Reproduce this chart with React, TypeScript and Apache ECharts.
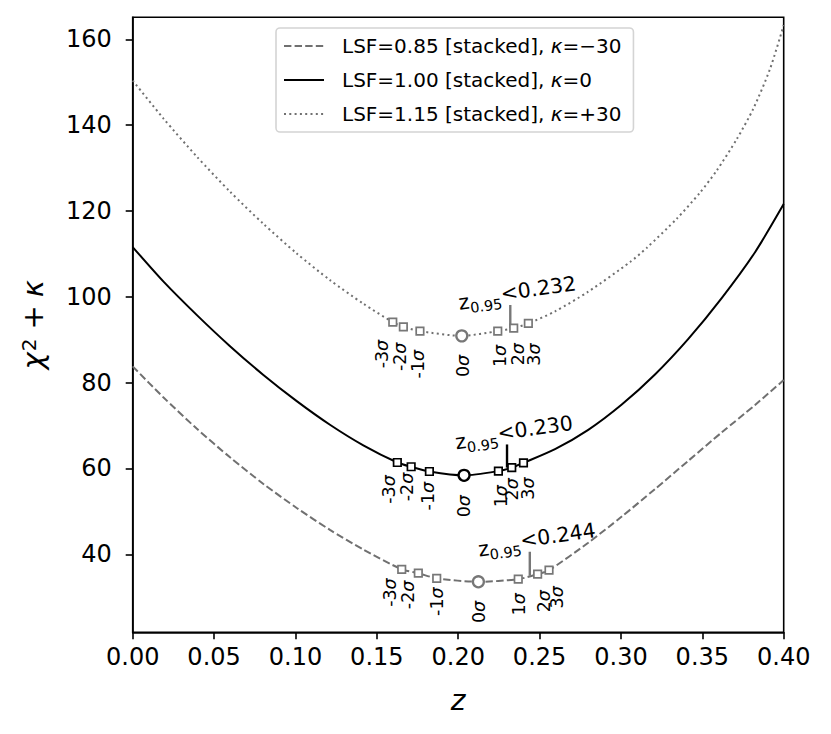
import { useEffect, useRef } from 'react';
import * as echarts from 'echarts';

const FONT = "'DejaVu Sans', sans-serif";

// ---------- data ----------
const seriesNames = [
  'LSF=0.85 [stacked], κ=−30',
  'LSF=1.00 [stacked], κ=0',
  'LSF=1.15 [stacked], κ=+30',
];

const curveZ085 = [0, 0.0188, 0.0393, 0.0598, 0.0803, 0.1008, 0.1212, 0.1417, 0.1653, 0.1755, 0.1868, 0.2124, 0.2369, 0.2488, 0.2558, 0.2799, 0.3005, 0.3209, 0.3414, 0.3619, 0.3824, 0.4];
const curveV085 = [83.8, 76.6, 69.3, 62.6, 56.4, 50.8, 45.7, 41.1, 36.5, 35.6, 34.4, 33.6, 34.2, 35.4, 36.3, 42.7, 48.8, 55.2, 61.8, 68.4, 74.8, 80.6];

const curveZ100 = [0, 0.0188, 0.0393, 0.0598, 0.0803, 0.1008, 0.1212, 0.1417, 0.1626, 0.1711, 0.1823, 0.2036, 0.2247, 0.2329, 0.2401, 0.2595, 0.2799, 0.3005, 0.3209, 0.3414, 0.3619, 0.3824, 0.4];
const curveV100 = [111.6, 103.6, 95.8, 88.5, 81.8, 75.7, 70.2, 65.4, 61.4, 60.4, 59.3, 58.4, 59.4, 60.2, 61.3, 64.5, 69.0, 74.9, 81.9, 90.2, 99.7, 110.4, 121.6];

const curveZ115 = [0, 0.0188, 0.0393, 0.0598, 0.0803, 0.1008, 0.1212, 0.1417, 0.1598, 0.1663, 0.1765, 0.2022, 0.2243, 0.2341, 0.2431, 0.2595, 0.2799, 0.3056, 0.3158, 0.3343, 0.3486, 0.3588, 0.3711, 0.3813, 0.3916, 0.4];
const curveV115 = [150.4, 141.6, 132.7, 124.5, 117.0, 110.1, 103.9, 98.4, 94.1, 93.0, 92.0, 90.9, 92.0, 92.7, 93.8, 96.6, 101.2, 108.1, 111.4, 118.2, 124.3, 129.4, 136.7, 143.8, 153.1, 163.3];

const sigmaLevels = ['-3', '-2', '-1', '0', '1', '2', '3'];

const markerZ085 = [0.1653, 0.1755, 0.1868, 0.2124, 0.2369, 0.2488, 0.2558];
const markerV085 = [36.5, 35.6, 34.4, 33.6, 34.2, 35.4, 36.3];
const markerZ100 = [0.1626, 0.1711, 0.1823, 0.2036, 0.2247, 0.2329, 0.2401];
const markerV100 = [61.4, 60.4, 59.3, 58.4, 59.4, 60.2, 61.3];
const markerZ115 = [0.1598, 0.1663, 0.1765, 0.2022, 0.2243, 0.2341, 0.2431];
const markerV115 = [94.1, 93.0, 92.0, 90.9, 92.0, 92.7, 93.8];

const z95Values = [0.244, 0.230, 0.232];
const z95Bottom = [35.0, 60.2, 92.7];
const z95Top = [40.6, 65.6, 98.1];

const yTicks = [40, 60, 80, 100, 120, 140, 160];

// ---------- styles ----------
const GRAY = '#707070';
const BLACK = '#000000';
const curveColors = [GRAY, BLACK, GRAY];
const curveDash: any[] = [[7.4, 3.2], 'solid', [2, 3.3]];
const markerColors = ['#777777', BLACK, '#777777'];

// pixel offsets (dx, dy) of the rotated sigma labels relative to their markers
const sigmaLabelOffsets = [
  [[-11.4, 9], [-10, 7.4], [0, 9], [0.7, 19], [0.7, 14], [6.3, 16], [8.3, 16]],
  [[-8.6, 12.7], [-4.3, 6], [-1, 10.4], [0, 19.7], [3, 14], [0, 10.6], [4.2, 14.6]],
  [[-10.7, 17.7], [-3.3, 15.7], [-1.7, 18.7], [1.3, 19], [2.3, 13.7], [4.6, 15], [5.7, 20]],
];

const zip = (a: number[], b: number[]) => a.map((v, i) => [v, b[i]]);

export default function App() {
  const ref = useRef<HTMLDivElement>(null);

  useEffect(() => {
    const chart = echarts.init(ref.current!, null, { renderer: 'svg' });

    const curves = [
      zip(curveZ085, curveV085),
      zip(curveZ100, curveV100),
      zip(curveZ115, curveV115),
    ];
    const markers = [
      zip(markerZ085, markerV085),
      zip(markerZ100, markerV100),
      zip(markerZ115, markerV115),
    ];

    const series: any[] = [];
    curves.forEach((data, k) => {
      series.push({
        name: seriesNames[k],
        type: 'line',
        data,
        symbol: 'none',
        smooth: 0.25,
        z: 2,
        lineStyle: { color: curveColors[k], width: 2, type: curveDash[k], cap: 'butt' },
        itemStyle: { color: curveColors[k] },
      });
    });
    z95Values.forEach((z, k) => {
      series.push({
        name: 'z95-' + k,
        type: 'line',
        data: [[z, z95Bottom[k]], [z, z95Top[k]]],
        symbol: 'none',
        z: 3,
        lineStyle: { color: markerColors[k], width: 2.4, type: 'solid' },
      });
    });
    markers.forEach((pts, k) => {
      series.push({
        name: 'markers-' + k,
        type: 'scatter',
        z: 4,
        data: pts.map((p, i) =>
          sigmaLevels[i] === '0'
            ? { value: p, symbol: 'circle', symbolSize: 11, itemStyle: { borderWidth: 2.3 } }
            : { value: p, symbol: 'rect', symbolSize: 7.5 }
        ),
        itemStyle: { color: '#ffffff', borderColor: markerColors[k], borderWidth: 1.7, opacity: 1 },
      });
    });

    const option: any = {
      animation: false,
      textStyle: { fontFamily: FONT },
      grid: {
        left: 132.7,
        right: 47.3,
        top: 17.3,
        bottom: 101.7,
        show: true,
        borderColor: '#000',
        borderWidth: 1.6,
        backgroundColor: 'transparent',
      },
      legend: {
        data: seriesNames,
        orient: 'vertical',
        left: 276,
        top: 28,
        padding: [8, 12, 8, 7],
        itemGap: 14,
        itemWidth: 40,
        itemHeight: 14,
        backgroundColor: '#fff',
        borderColor: '#d4d4d4',
        borderWidth: 1.6,
        borderRadius: 4,
        itemStyle: { opacity: 0 },
        formatter: (name: string) => name.replace('κ', '{i|κ}'),
        textStyle: {
          fontFamily: FONT,
          fontSize: 20,
          color: '#000',
          padding: [0, 0, 0, 13],
          rich: {
            i: { fontFamily: FONT, fontSize: 20, fontStyle: 'italic', color: '#000' },
          },
        },
      },
      xAxis: {
        type: 'value',
        min: 0,
        max: 0.4,
        interval: 0.05,
        name: 'z',
        nameLocation: 'middle',
        nameGap: 54,
        nameTextStyle: { fontFamily: FONT, fontSize: 28, fontStyle: 'italic', color: '#000' },
        splitLine: { show: false },
        axisLine: { show: true, lineStyle: { color: '#000', width: 1.6 } },
        axisTick: { show: true, length: 7, lineStyle: { color: '#000', width: 1.6 } },
        axisLabel: {
          color: '#000',
          fontFamily: FONT,
          fontSize: 24,
          margin: 13,
          formatter: (v: number) => v.toFixed(2),
        },
      },
      yAxis: {
        type: 'value',
        min: 21.83,
        max: 165.13,
        name: '{i|χ}{s|2}{n|+}{i|κ}',
        nameLocation: 'middle',
        nameGap: 85,
        nameTextStyle: {
          fontFamily: FONT,
          fontSize: 29,
          color: '#000',
          rich: {
            i: { fontFamily: FONT, fontSize: 29, fontStyle: 'italic', color: '#000' },
            s: { fontFamily: FONT, fontSize: 20, color: '#000', verticalAlign: 'top', padding: [0, 2, 0, 1] },
            n: { fontFamily: FONT, fontSize: 29, color: '#000', padding: [0, 8, 0, 7] },
          },
        },
        splitLine: { show: false },
        axisLine: { show: true, lineStyle: { color: '#000', width: 1.6 } },
        axisTick: { show: true, length: 7, customValues: yTicks, lineStyle: { color: '#000', width: 1.6 } },
        axisLabel: {
          color: '#000',
          fontFamily: FONT,
          fontSize: 24,
          margin: 21,
          customValues: yTicks,
          formatter: (v: number) => String(Math.round(v)),
        },
      },
      series,
    };

    chart.setOption(option);

    // annotations positioned through the chart's own coordinate conversion
    const elements: any[] = [];
    markers.forEach((pts, k) => {
      pts.forEach((p, i) => {
        const px = chart.convertToPixel({ gridIndex: 0 }, p) as number[];
        const [dx, dy] = sigmaLabelOffsets[k][i];
        elements.push({
          type: 'text',
          x: px[0] + dx,
          y: px[1] + dy,
          rotation: Math.PI / 2,
          z: 10,
          style: {
            text: '{n|' + sigmaLevels[i] + '}{s|σ}',
            align: 'right',
            verticalAlign: 'middle',
            fill: '#000',
            rich: {
              n: { fontFamily: FONT, fontSize: 17.5, fill: '#000' },
              s: { fontFamily: FONT, fontSize: 17.5, fontStyle: 'italic', fill: '#000' },
            },
          },
        });
      });
    });
    z95Values.forEach((z, k) => {
      const px = chart.convertToPixel({ gridIndex: 0 }, [z, z95Top[k]]) as number[];
      elements.push({
        type: 'text',
        x: px[0] + 7,
        y: px[1] - 12,
        rotation: (8 * Math.PI) / 180,
        z: 10,
        style: {
          text: '{z|z}{b|0.95}{t|<' + z.toFixed(3) + '}',
          align: 'center',
          verticalAlign: 'middle',
          fill: '#000',
          rich: {
            z: { fontFamily: FONT, fontSize: 20.5, fill: '#000', verticalAlign: 'bottom' },
            b: { fontFamily: FONT, fontSize: 14.5, fill: '#000', verticalAlign: 'bottom', padding: [0, 0, -4, 0] },
            t: { fontFamily: FONT, fontSize: 20.5, fill: '#000', verticalAlign: 'bottom', padding: [0, 0, 3, 0] },
          },
        },
      });
    });
    chart.setOption({ graphic: { elements } });

    return () => chart.dispose();
  }, []);

  return (
    <div
      ref={ref}
      style={{ position: 'absolute', left: 0, top: 0, width: 831, height: 734, background: '#fff' }}
    />
  );
}
